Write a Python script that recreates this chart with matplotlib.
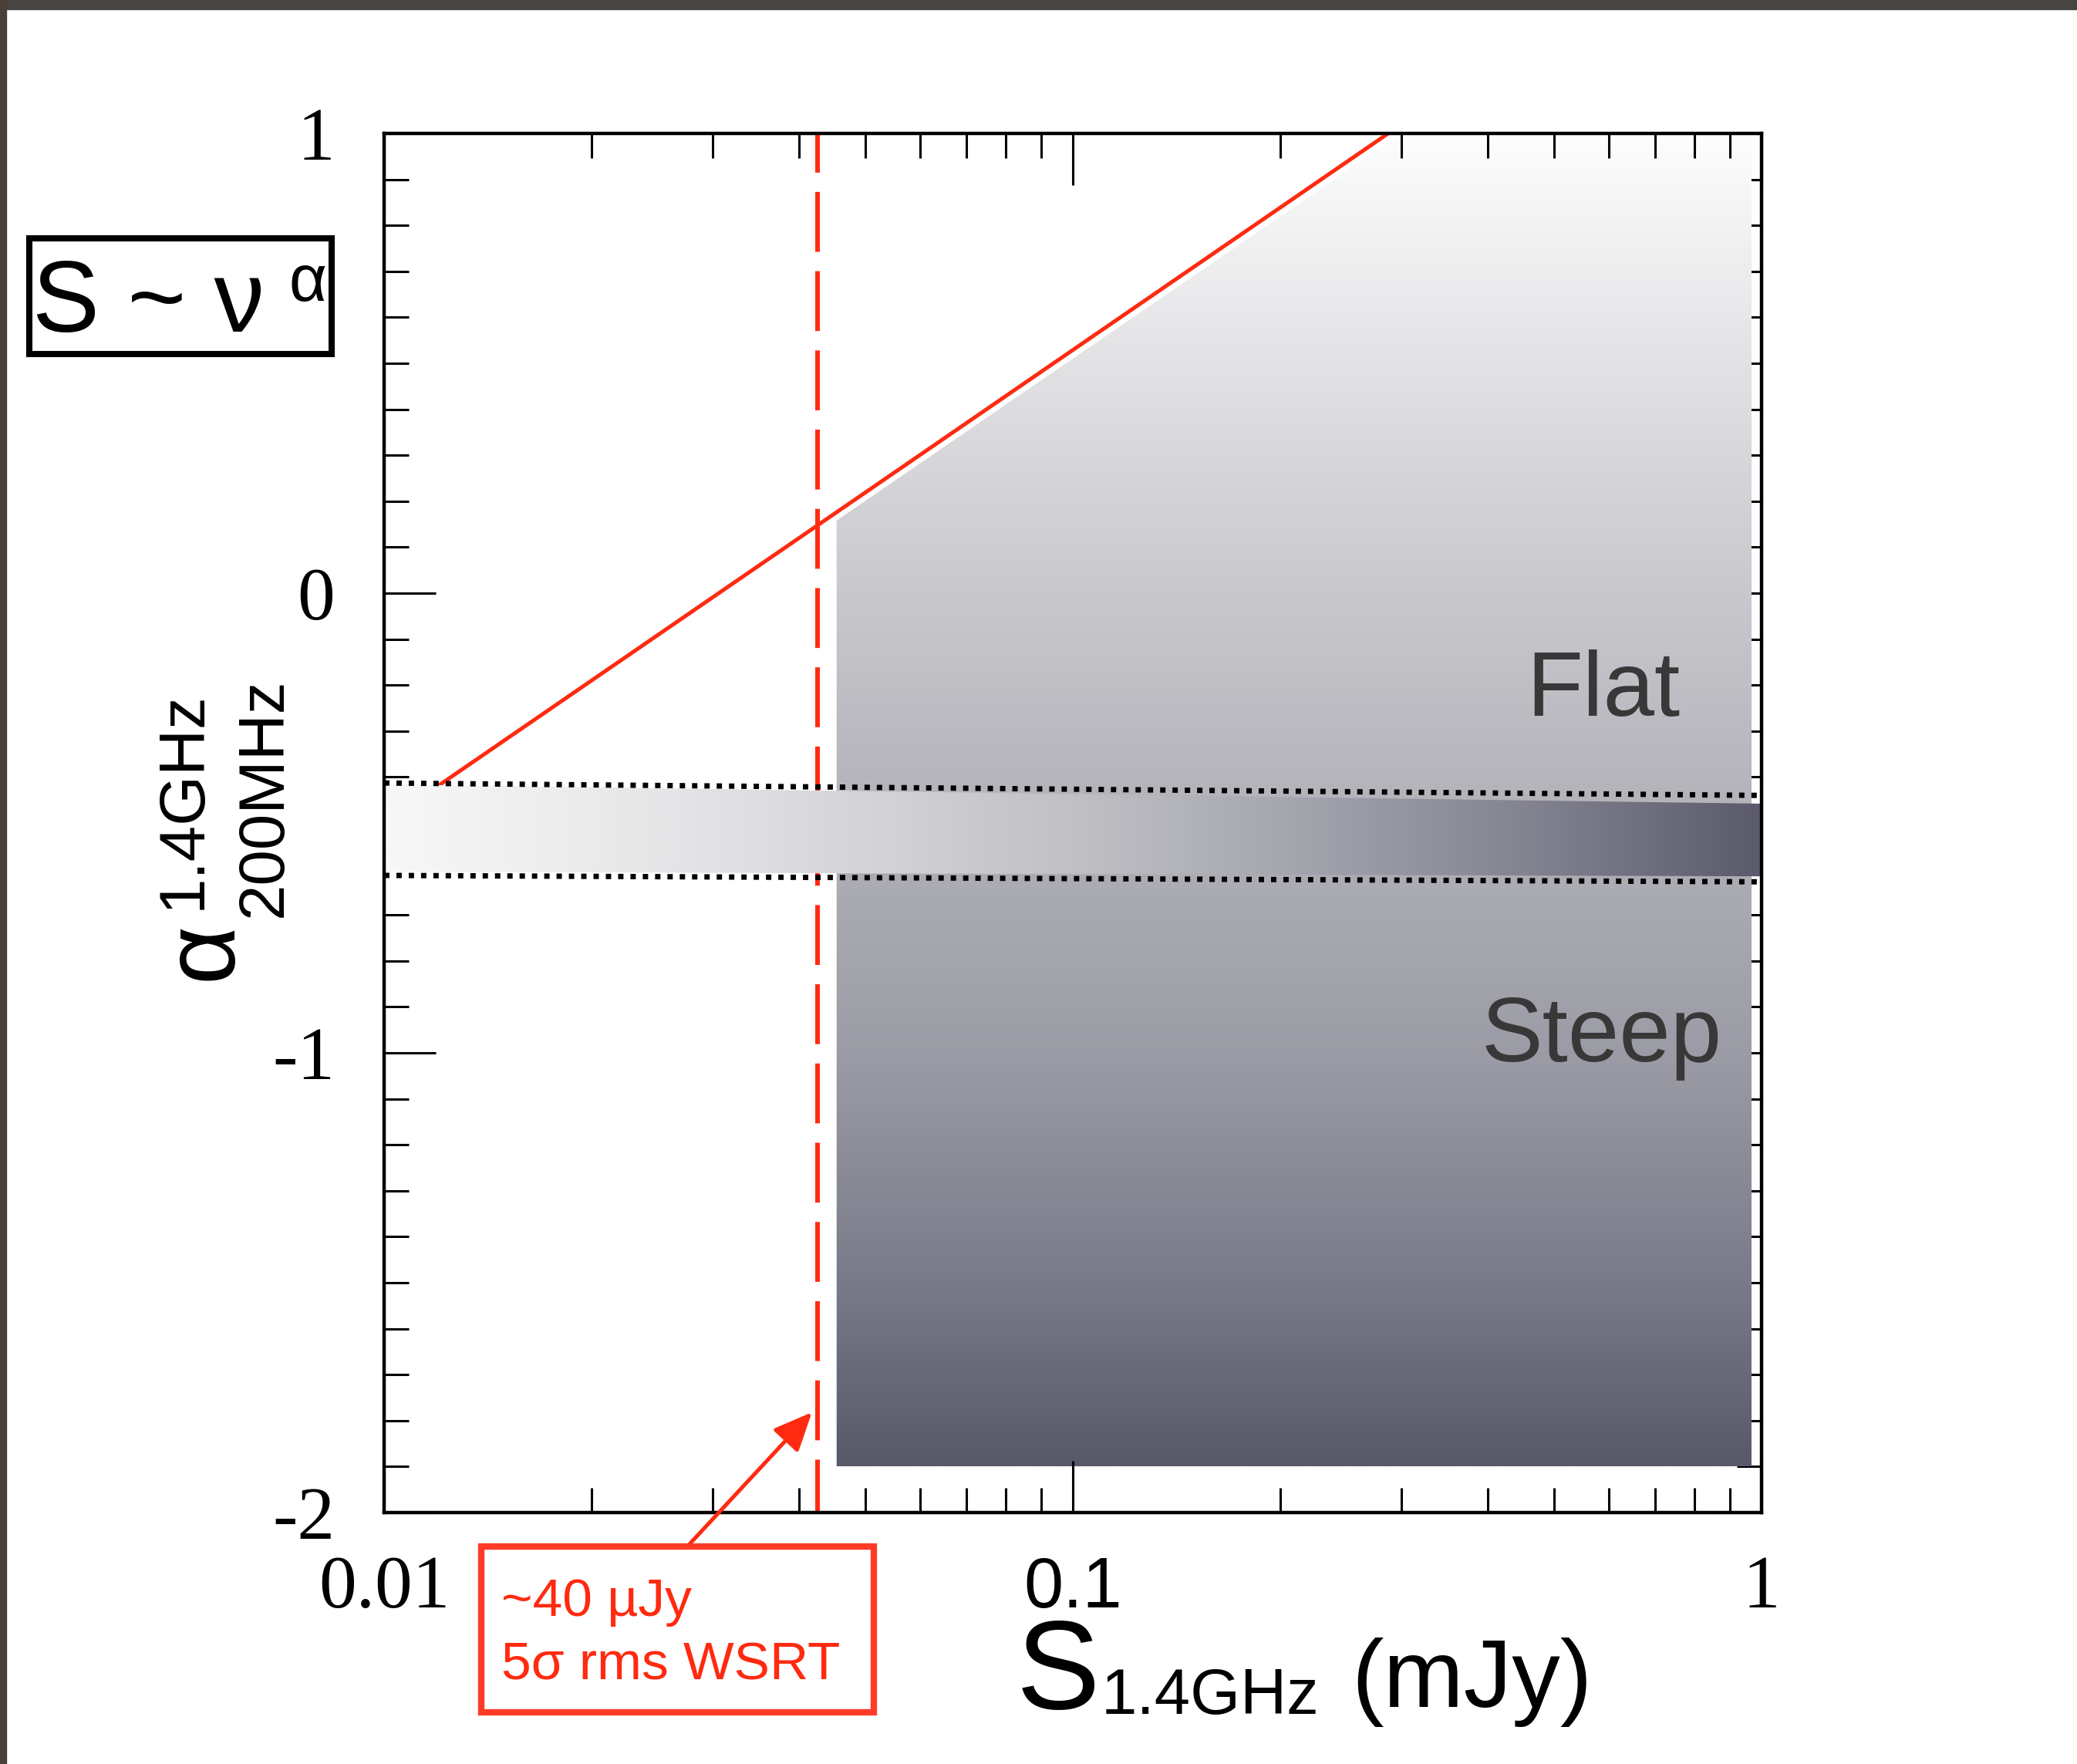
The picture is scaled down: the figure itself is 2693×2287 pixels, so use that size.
import matplotlib
matplotlib.use("Agg")
import matplotlib.pyplot as plt
import numpy as np
from matplotlib.colors import LinearSegmentedColormap
from matplotlib.patches import Polygon, Rectangle
from matplotlib.ticker import LogLocator, MultipleLocator, NullFormatter

W, H = 2693, 2287

# --- data ---
flux_limit = 0.0426                       # mJy, 5 sigma WSRT limit (dashed line)
limit_line_x = [0.01, 0.287]              # solid red line
limit_line_y = [-0.5, 1.0]
region_x = [0.0454, 0.0454, 0.30, 0.967, 0.967]   # shaded region
region_y = [-1.9, 0.158, 1.0, 1.0, -1.9]
band_x = [0.01, 1.0]
band_top = [-0.416, -0.458]
band_bot = [-0.606, -0.616]
dotted_upper = [-0.413, -0.440]
dotted_lower = [-0.614, -0.628]
xtick_vals = [0.01, 0.1, 1]
xtick_labels = ["0.01", "0.1", "1"]
ytick_vals = [-2, -1, 0, 1]
ytick_labels = ["-2", "-1", "0", "1"]

# gradient colour stops (data y -> colour) and band stops (axes x fraction)
grad_stops_y = [-1.9, -1.5, -1.0, -0.5, 0.0, 0.5, 1.0]
grad_colors = ["#585969", "#7a7b8a", "#9c9ca6", "#b1b1b8", "#c8c8cd", "#e2e2e5", "#fdfdfd"]
band_stops = [0.0, 0.2, 0.37, 0.5, 0.65, 0.8, 1.0]
band_colors = ["#f8f8f8", "#e6e6e8", "#d2d2d5", "#c0c0c5", "#a7a7b0", "#8a8a97", "#5c5b6d"]

RED = "#ff2a10"


def fx(x):
    return x / W


def fy(y):
    return 1 - y / H


fig = plt.figure(figsize=(W / 100, H / 100), dpi=100)
fig.patch.set_facecolor("white")

# dark screen-capture edges
fig.patches.append(Rectangle((0, fy(12)), 1, 12 / H, transform=fig.transFigure,
                             color="#474544", zorder=0))
fig.patches.append(Rectangle((0, 0), 8 / W, 1, transform=fig.transFigure,
                             color="#4a4038", zorder=0))

ax = fig.add_axes([fx(498), fy(1961), (2284 - 498) / W, (1961 - 173) / H])
ax.set_xscale("log")
ax.set_xlim(0.01, 1)
ylim = (-2, 1)
ax.set_ylim(*ylim)

# shaded region with vertical gradient
pos = [(v - ylim[0]) / (ylim[1] - ylim[0]) for v in grad_stops_y]
cmap_v = LinearSegmentedColormap.from_list(
    "vgrad", list(zip([(p - pos[0]) / (pos[-1] - pos[0]) for p in pos], grad_colors)))
col = np.linspace(0, 1, 600).reshape(-1, 1)
img = ax.imshow(col, cmap=cmap_v, origin="lower", aspect="auto",
                extent=[0, 1, pos[0], pos[-1]], transform=ax.transAxes,
                interpolation="bilinear", zorder=1)
reg_poly = Polygon(list(zip(region_x, region_y)), closed=True, transform=ax.transData,
                   facecolor="none", edgecolor="none")
ax.add_patch(reg_poly)
img.set_clip_path(reg_poly)

# red limit line and dashed flux limit
ax.plot(limit_line_x, limit_line_y, color=RED, lw=3.6, zorder=2, solid_capstyle="butt")
ax.plot([flux_limit, flux_limit], [1, -2], color=RED, lw=4.3,
        linestyle=(4.5, (13, 4.2)), zorder=2.5)

# band with horizontal gradient
cmap_h = LinearSegmentedColormap.from_list("hgrad", list(zip(band_stops, band_colors)))
row = np.linspace(0, 1, 600).reshape(1, -1)
img2 = ax.imshow(row, cmap=cmap_h, origin="lower", aspect="auto",
                 extent=[0, 1, 0, 1], transform=ax.transAxes,
                 interpolation="bilinear", zorder=3)
band_poly = Polygon([(band_x[0], band_top[0]), (band_x[1], band_top[1]),
                     (band_x[1], band_bot[1]), (band_x[0], band_bot[0])],
                    closed=True, transform=ax.transData, facecolor="none", edgecolor="none")
ax.add_patch(band_poly)
img2.set_clip_path(band_poly)

# dotted band edges
for yy in (dotted_upper, dotted_lower):
    ax.plot(band_x, yy, color="black", lw=5, linestyle=(0, (1, 1.3)),
            dash_capstyle="butt", zorder=4)

# axes styling
for sp in ax.spines.values():
    sp.set_linewidth(3.2)
    sp.set_zorder(6)
ax.set_xticks(xtick_vals)
ax.set_xticklabels(xtick_labels)
ax.xaxis.set_minor_locator(LogLocator(base=10, subs=np.arange(2, 10)))
ax.xaxis.set_minor_formatter(NullFormatter())
ax.set_yticks(ytick_vals)
ax.set_yticklabels(ytick_labels)
ax.yaxis.set_minor_locator(MultipleLocator(0.1))
ax.tick_params(which="both", direction="in", top=True, right=True, width=2.2)
ax.tick_params(which="major", length=48)
ax.tick_params(which="minor", length=23)
ax.tick_params(axis="x", which="major", pad=40)
ax.tick_params(axis="y", which="major", pad=46)
ax.xaxis.set_zorder(6)
ax.yaxis.set_zorder(0.5)   # y ticks sit under the shaded areas
for lbl in ax.get_xticklabels() + ax.get_yticklabels():
    lbl.set_fontfamily("Liberation Serif")
    lbl.set_fontsize(70)
ax.get_xticklabels()[1].set_fontfamily("Liberation Sans")
ax.get_xticklabels()[1].set_fontsize(66)

# region labels
ax.text(0.885, 0.578, "Flat", transform=ax.transAxes, fontsize=86,
        family="Liberation Sans", color="#383838", ha="center", va="baseline")
ax.text(0.884, 0.327, "Steep", transform=ax.transAxes, fontsize=86,
        family="Liberation Sans", color="#383838", ha="center", va="baseline")

# y-axis label: alpha with stacked super/subscripts
fig.text(fx(300), fy(1271), "α", fontsize=95, family="Liberation Sans",
         rotation=90, rotation_mode="anchor", ha="left", va="baseline")
fig.text(fx(260), fy(1179), "1.4GHz", fontsize=60, family="Liberation Sans",
         rotation=90, rotation_mode="anchor", ha="left", va="baseline")
fig.text(fx(365), fy(1189), "200MHz", fontsize=60, family="Liberation Sans",
         rotation=90, rotation_mode="anchor", ha="left", va="baseline")

# x-axis label
fig.text(fx(1318), fy(2215), "S", fontsize=117, family="Liberation Sans",
         ha="left", va="baseline")
fig.text(fx(1428), fy(2222), "1.4GHz", fontsize=60, family="Liberation Sans",
         ha="left", va="baseline")
fig.text(fx(1752), fy(2213), "(mJy)", fontsize=90, family="Liberation Sans",
         ha="left", va="baseline")

# S ~ nu^alpha box
fig.patches.append(Rectangle((fx(38), fy(459)), (430 - 38) / W, (459 - 309) / H,
                             transform=fig.transFigure, fill=False,
                             edgecolor="black", lw=5.8))
fig.text(fx(42), fy(430), "S ~ ν", fontsize=94, family="Liberation Sans",
         ha="left", va="baseline")
fig.text(fx(374), fy(390), "α", fontsize=61, family="Liberation Sans",
         ha="left", va="baseline")

# flux limit annotation
fig.patches.append(Rectangle((fx(624), fy(2220)), (1133 - 624) / W, (2220 - 2005) / H,
                             transform=fig.transFigure, fill=False,
                             edgecolor="#ff3b26", lw=6))
fig.text(fx(650), fy(2095), "~40 µJy", fontsize=50, family="Liberation Sans",
         color=RED, ha="left", va="baseline")
fig.text(fx(650), fy(2178), "5σ rms WSRT", fontsize=50, family="Liberation Sans",
         color=RED, ha="left", va="baseline")
ax.annotate("", xy=(0.0418, -1.782), xycoords="data",
            xytext=(fx(893), fy(2003)), textcoords="figure fraction",
            arrowprops=dict(arrowstyle="-|>,head_length=0.9,head_width=0.4",
                            color=RED, lw=3.6, mutation_scale=34,
                            shrinkA=0, shrinkB=0),
            annotation_clip=False, zorder=7)

fig.savefig("out.png", dpi=100)
